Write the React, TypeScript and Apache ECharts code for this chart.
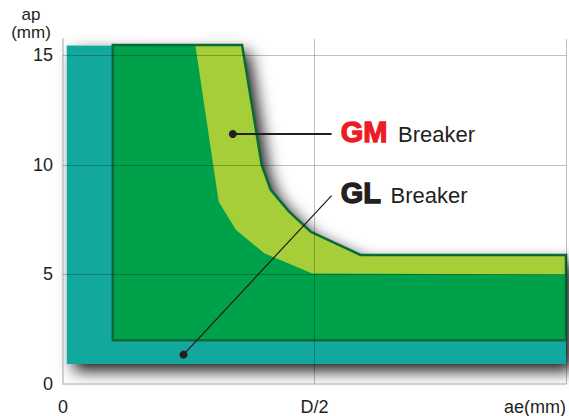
import React, { useEffect, useRef } from "react";
import * as echarts from "echarts";

// ---- data (x in fractions of D, y = ap in mm) ----
const xTickValues = [0, 0.5, 1];
const xTickLabels = ["0", "D/2", "ae(mm)"];
const yTickValues = [0, 5, 10, 15];
const gridYValues = [5, 10, 15];
const gridXValues = [0.5, 1];

// silhouette that casts the drop shadow
const shadowArea = [
  [0.0073, 15.45], [0.356, 15.48], [0.395, 10.0], [0.413, 8.86], [0.4495, 7.87],
  [0.4925, 6.95], [0.5915, 5.89], [1.0, 5.89], [1.0, 0.91], [0.0073, 0.91],
];
// teal (outer) application range
const tealArea = [
  [0.0073, 15.45], [0.13, 15.45], [0.13, 2.5], [1.0, 2.5], [1.0, 0.91], [0.0073, 0.91],
];
// GL Breaker range (whole outlined area)
const glArea = [
  [0.099, 15.48], [0.356, 15.48], [0.395, 10.0], [0.413, 8.86], [0.4495, 7.87],
  [0.4925, 6.95], [0.5915, 5.89], [1.0, 5.89], [1.0, 2.0], [0.099, 2.0],
];
// GM Breaker band
const gmArea = [
  [0.263, 15.48], [0.356, 15.48], [0.395, 10.0], [0.413, 8.86], [0.4495, 7.87],
  [0.4925, 6.95], [0.5915, 5.89], [1.0, 5.89], [1.0, 5.0], [0.4956, 5.05],
  [0.4, 5.97], [0.344, 7.03], [0.3095, 8.32],
];

// annotations
const gmLeader = [[0.3376, 11.41], [0.534, 11.41]];
const glLeader = [[0.2396, 1.34], [0.534, 8.6]];
const labelNames = ["GM", "GL"];
const labelColors = ["#ed1c24", "#231f20"];
const labelAnchors = [[0.552, 11.495], [0.552, 8.71]];
const suffixText = "Breaker";
const suffixAnchors = [[0.666, 11.385], [0.651, 8.6]];

const FONT = "'Liberation Sans', Arial, Helvetica, sans-serif";
const TEXT = "#231f20";

function polySeries(points: number[][], style: any, z: number, extra: any = {}) {
  return {
    type: "custom",
    z,
    silent: true,
    data: [[0, 0]],
    renderItem: (_p: any, api: any) => ({
      type: "polygon",
      shape: { points: points.map((pt) => api.coord(pt)) },
      style,
    }),
    ...extra,
  };
}

export default function App() {
  const ref = useRef<HTMLDivElement>(null);
  useEffect(() => {
    if (!ref.current) return;
    const chart = echarts.init(ref.current, undefined, { renderer: "svg" });
    const option: any = {
      animation: false,
      backgroundColor: "#ffffff",
      grid: { left: 63, right: 1, top: 39, bottom: 32 },
      xAxis: {
        type: "value",
        min: 0,
        max: 1,
        interval: 0.5,
        z: 3,
        axisLine: { show: true, lineStyle: { color: "#c2c2c2", width: 1.5 } },
        axisTick: { show: false },
        splitLine: { show: false },
        axisLabel: {
          margin: 14,
          fontSize: 18,
          fontFamily: FONT,
          color: TEXT,
          alignMaxLabel: "right",
          formatter: (v: number) => {
            const i = xTickValues.indexOf(v);
            return i >= 0 ? xTickLabels[i] : "";
          },
        },
      },
      yAxis: {
        type: "value",
        min: 0,
        max: 15.75,
        interval: 5,
        z: 3,
        name: "ap\n(mm)",
        nameLocation: "end",
        nameGap: -2,
        nameTextStyle: {
          fontSize: 17,
          lineHeight: 18,
          fontFamily: FONT,
          color: TEXT,
          align: "center",
          padding: [0, 64, 0, 0],
        },
        axisLine: { show: true, lineStyle: { color: "#c2c2c2", width: 1.5 } },
        axisTick: { show: false },
        splitLine: { show: false },
        axisLabel: {
          margin: 10,
          fontSize: 18,
          fontFamily: FONT,
          color: TEXT,
          showMaxLabel: false,
          formatter: (v: number) => (yTickValues.indexOf(v) >= 0 ? String(v) : ""),
        },
      },
      series: [
        polySeries(shadowArea, {
          fill: "#ffffff",
          shadowColor: "rgba(0,0,0,0.9)",
          shadowBlur: 16,
          shadowOffsetX: 7,
          shadowOffsetY: 7,
        }, 1),
        polySeries(tealArea, { fill: "#13a89e" }, 2),
        polySeries(glArea, { fill: "#00a14b" }, 3),
        polySeries(gmArea, { fill: "#a6ce39" }, 4),
        polySeries(glArea, { fill: "none", stroke: "#0b6b38", lineWidth: 2.5, lineJoin: "miter" }, 5, {
          markLine: {
            silent: true,
            symbol: "none",
            z: 6,
            label: { show: false },
            lineStyle: { color: "rgba(0,0,0,0.25)", width: 1, type: "solid" },
            data: [
              ...gridYValues.map((v) => ({ yAxis: v })),
              ...gridXValues.map((v) => ({ xAxis: v })),
            ],
          },
        }),
        {
          type: "custom",
          z: 10,
          silent: true,
          data: [0, 1],
          renderItem: (params: any, api: any) => {
            const i = params.dataIndex;
            const leader = i === 0 ? gmLeader : glLeader;
            const a = api.coord(leader[0]);
            const b = api.coord(leader[1]);
            const t = api.coord(labelAnchors[i]);
            const s = api.coord(suffixAnchors[i]);
            return {
              type: "group",
              children: [
                {
                  type: "line",
                  shape: { x1: a[0], y1: a[1], x2: b[0], y2: b[1] },
                  style: { stroke: i === 0 ? "#231f20" : "#2b1515", lineWidth: i === 0 ? 2 : 1.2 },
                },
                {
                  type: "circle",
                  shape: { cx: a[0], cy: a[1], r: 4 },
                  style: { fill: "#231f20" },
                },
                {
                  type: "text",
                  x: t[0],
                  y: t[1],
                  style: {
                    text: labelNames[i],
                    fill: labelColors[i],
                    stroke: labelColors[i],
                    lineWidth: 1.3,
                    font: `bold 29px ${FONT}`,
                    align: "left",
                    verticalAlign: "middle",
                  },
                },
                {
                  type: "text",
                  x: s[0],
                  y: s[1],
                  style: {
                    text: suffixText,
                    fill: TEXT,
                    font: `22px ${FONT}`,
                    align: "left",
                    verticalAlign: "middle",
                  },
                },
              ],
            };
          },
        },
      ],
    };
    chart.setOption(option);
    return () => chart.dispose();
  }, []);
  return (
    <div
      ref={ref}
      style={{ position: "fixed", left: 0, top: 0, width: 569, height: 416, background: "#fff" }}
    />
  );
}
